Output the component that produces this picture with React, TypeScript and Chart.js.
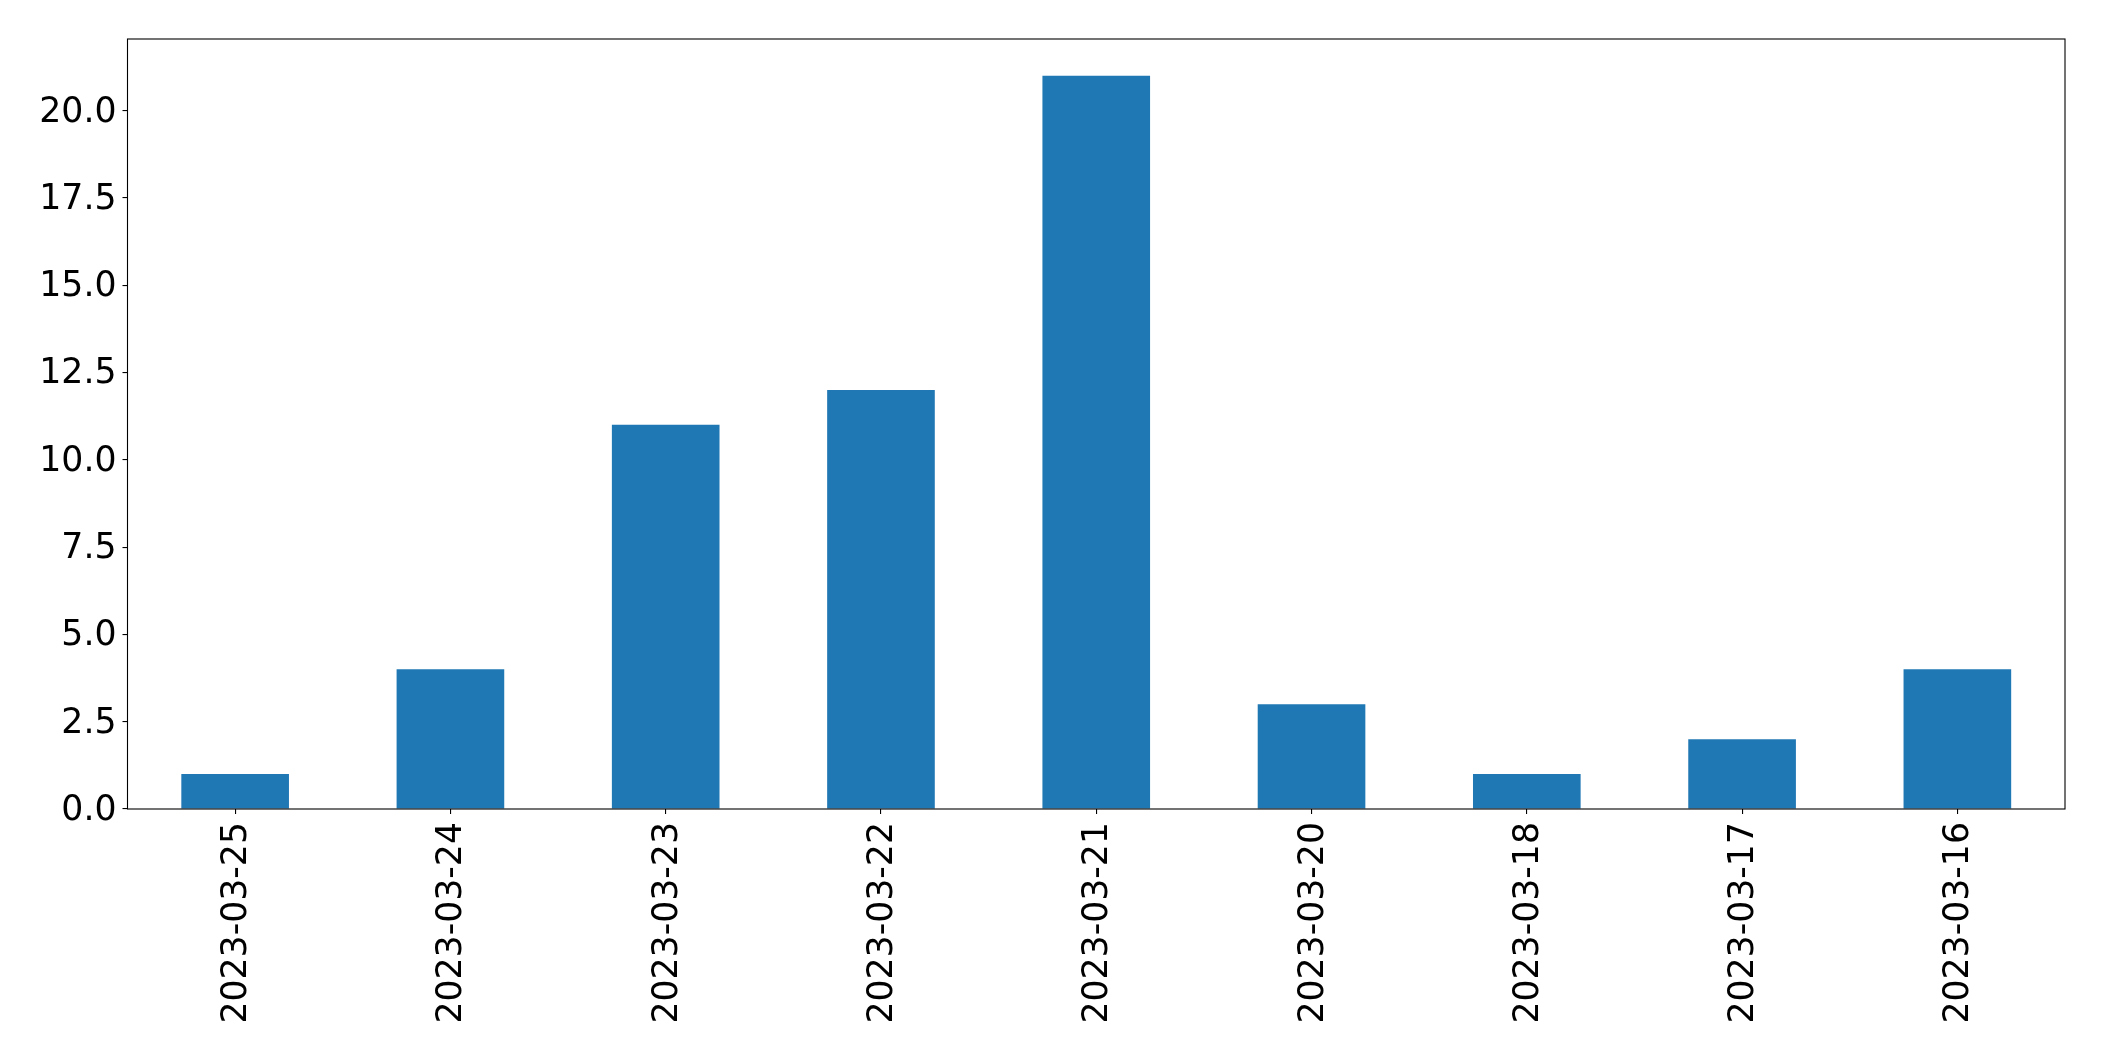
import React, { useEffect, useRef } from "react";
import { Chart, registerables } from "chart.js";

Chart.register(...registerables);

const categories = [
  "2023-03-25",
  "2023-03-24",
  "2023-03-23",
  "2023-03-22",
  "2023-03-21",
  "2023-03-20",
  "2023-03-18",
  "2023-03-17",
  "2023-03-16",
];
const counts = [1, 4, 11, 12, 21, 3, 1, 2, 4];
const yTicks = [0, 2.5, 5, 7.5, 10, 12.5, 15, 17.5, 20];
const yMax = 22.05;

const FONT = { family: "'DejaVu Sans', sans-serif", size: 34.7 };

const framePlugin = {
  id: "frame",
  afterDraw(chart: any) {
    const { ctx, chartArea } = chart;
    ctx.save();
    ctx.strokeStyle = "#000";
    ctx.lineWidth = 1.1;
    ctx.strokeRect(chartArea.left, chartArea.top, chartArea.right - chartArea.left, chartArea.bottom - chartArea.top);
    ctx.restore();
  },
};

export default function App() {
  const ref = useRef<HTMLCanvasElement | null>(null);
  useEffect(() => {
    document.body.style.margin = "0";
    const chart = new Chart(ref.current as HTMLCanvasElement, {
      type: "bar",
      data: {
        labels: categories,
        datasets: [
          {
            data: counts,
            backgroundColor: "#1f77b4",
            borderWidth: 0,
            categoryPercentage: 1,
            barPercentage: 0.5,
          },
        ],
      },
      plugins: [framePlugin],
      options: {
        animation: false,
        responsive: false,
        maintainAspectRatio: false,
        layout: { padding: { top: 39, right: 39, left: 0, bottom: 0 } },
        plugins: { legend: { display: false }, tooltip: { enabled: false } },
        scales: {
          x: {
            offset: true,
            grid: {
              offset: false,
              drawOnChartArea: false,
              drawTicks: true,
              tickLength: 5,
              color: "#000",
              lineWidth: 1.1,
            },
            border: { display: false },
            ticks: {
              font: FONT,
              color: "#000",
              minRotation: 90,
              maxRotation: 90,
              padding: 8,
              labelOffset: 2,
              autoSkip: false,
            },
            afterFit(scale: any) {
              scale.height = 252;
            },
          },
          y: {
            min: 0,
            max: yMax,
            grid: {
              drawOnChartArea: false,
              drawTicks: true,
              tickLength: 5,
              color: "#000",
              lineWidth: 1.1,
            },
            border: { display: false },
            ticks: {
              font: FONT,
              color: "#000",
              padding: 6,
              labelOffset: 2,
              callback: (v: any) => Number(v).toFixed(1),
            },
            afterBuildTicks(scale: any) {
              scale.ticks = yTicks.map((v) => ({ value: v }));
            },
            afterFit(scale: any) {
              scale.width = 127.5;
            },
          },
        },
      },
    } as any);
    return () => chart.destroy();
  }, []);
  return (
    <div style={{ position: "absolute", left: 0, top: 0, width: 2104, height: 1061, background: "#fff" }}>
      <canvas ref={ref} width={2104} height={1061} style={{ width: 2104, height: 1061 }} />
    </div>
  );
}
